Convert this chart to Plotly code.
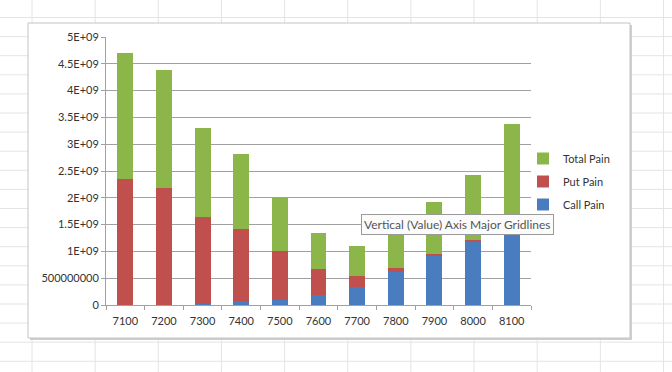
import plotly.graph_objects as go

# ---- data ----
strikes = ["7100", "7200", "7300", "7400", "7500", "7600", "7700", "7800", "7900", "8000", "8100"]
call_pain = [0.0e9, 0.0e9, 0.01e9, 0.07e9, 0.10e9, 0.19e9, 0.33e9, 0.61e9, 0.91e9, 1.19e9, 1.68e9]
put_pain = [2.35e9, 2.19e9, 1.64e9, 1.34e9, 0.90e9, 0.48e9, 0.22e9, 0.08e9, 0.05e9, 0.02e9, 0.005e9]
total_pain = [2.35e9, 2.19e9, 1.65e9, 1.41e9, 1.00e9, 0.67e9, 0.55e9, 0.69e9, 0.96e9, 1.21e9, 1.69e9]

y_tickvals = [0, 0.5e9, 1e9, 1.5e9, 2e9, 2.5e9, 3e9, 3.5e9, 4e9, 4.5e9, 5e9]
y_ticktext = ["0", "500000000", "1E+09", "1.5E+09", "2E+09", "2.5E+09", "3E+09",
              "3.5E+09", "4E+09", "4.5E+09", "5E+09"]

BLUE = "#4A7DC0"
RED = "#C0504D"
GREEN = "#8DB64A"
FONT = "Lato"

W, H = 672, 372
L, R, T, B = 106, 141, 37, 67
PW, PH = W - L - R, H - T - B


def px(x):
    return (x - L) / PW


def py(y):
    return (H - B - y) / PH


fig = go.Figure()
fig.add_trace(go.Bar(x=strikes, y=call_pain, name="Call Pain", marker_color=BLUE,
                     marker_line_width=0, legendgroup="c", legendrank=3))
fig.add_trace(go.Bar(x=strikes, y=put_pain, name="Put Pain", marker_color=RED,
                     marker_line_width=0, legendgroup="p", legendrank=2))
fig.add_trace(go.Bar(x=strikes, y=total_pain, name="Total Pain", marker_color=GREEN,
                     marker_line_width=0, legendgroup="t", legendrank=1))

shapes = []
# spreadsheet background grid
grid_col = "#e4e4e4"
for i in range(11):
    xx = 32 + 63.15 * i
    shapes.append(dict(type="line", xref="paper", yref="paper", x0=px(xx), x1=px(xx),
                       y0=py(0), y1=py(H), line=dict(color=grid_col, width=1), layer="below"))
for k in range(19):
    yy = 17.5 + 19.1 * k
    shapes.append(dict(type="line", xref="paper", yref="paper", x0=px(0), x1=px(W),
                       y0=py(yy), y1=py(yy), line=dict(color=grid_col, width=1), layer="below"))
# chart shadow + box
shapes.append(dict(type="rect", xref="paper", yref="paper", x0=px(30), x1=px(632),
                   y0=py(25), y1=py(340), fillcolor="#cfcfcf", line=dict(width=0), layer="below"))
shapes.append(dict(type="rect", xref="paper", yref="paper", x0=px(28), x1=px(630),
                   y0=py(23), y1=py(338), fillcolor="white",
                   line=dict(color="#c4c4c4", width=1), layer="below"))

fig.update_layout(
    width=W, height=H,
    margin=dict(l=L, r=R, t=T, b=B),
    paper_bgcolor="white",
    plot_bgcolor="rgba(0,0,0,0)",
    barmode="stack",
    bargap=0.59,
    font=dict(family=FONT, size=11, color="#333333"),
    shapes=shapes,
    showlegend=True,
    legend=dict(traceorder="grouped", x=px(523), xanchor="left", y=py(144), yanchor="top",
                font=dict(family=FONT, size=11, color="#333333"), tracegroupgap=4,
                bgcolor="rgba(0,0,0,0)", itemwidth=30),
    xaxis=dict(type="category", showgrid=False, showline=True, linecolor="#a0a0a0",
               linewidth=1, ticks="outside", ticklen=4, tickcolor="#a0a0a0",
               tickson="boundaries", ticklabelstandoff=6,
               tickfont=dict(family=FONT, size=11, color="#333333"),
               fixedrange=True),
    yaxis=dict(range=[0, 5e9], tickvals=y_tickvals, ticktext=y_ticktext,
               showgrid=True, gridcolor="#a0a0a0", gridwidth=1, zeroline=False,
               showline=True, linecolor="#a0a0a0", linewidth=1,
               ticks="outside", ticklen=4, tickcolor="#a0a0a0",
               tickfont=dict(family=FONT, size=11, color="#333333"), fixedrange=True),
    annotations=[dict(text="Vertical (Value) Axis Major Gridlines", xref="paper", yref="paper",
                      x=px(457.5), y=py(224.5), xanchor="center", yanchor="middle",
                      showarrow=False, font=dict(family=FONT, size=12, color="#555555"),
                      bgcolor="#fbfbfb", bordercolor="#9a9a9a", borderwidth=1, borderpad=2)],
)

fig.write_html("out.html", config={"displayModeBar": False},
               post_script="document.body.style.margin='0';")
